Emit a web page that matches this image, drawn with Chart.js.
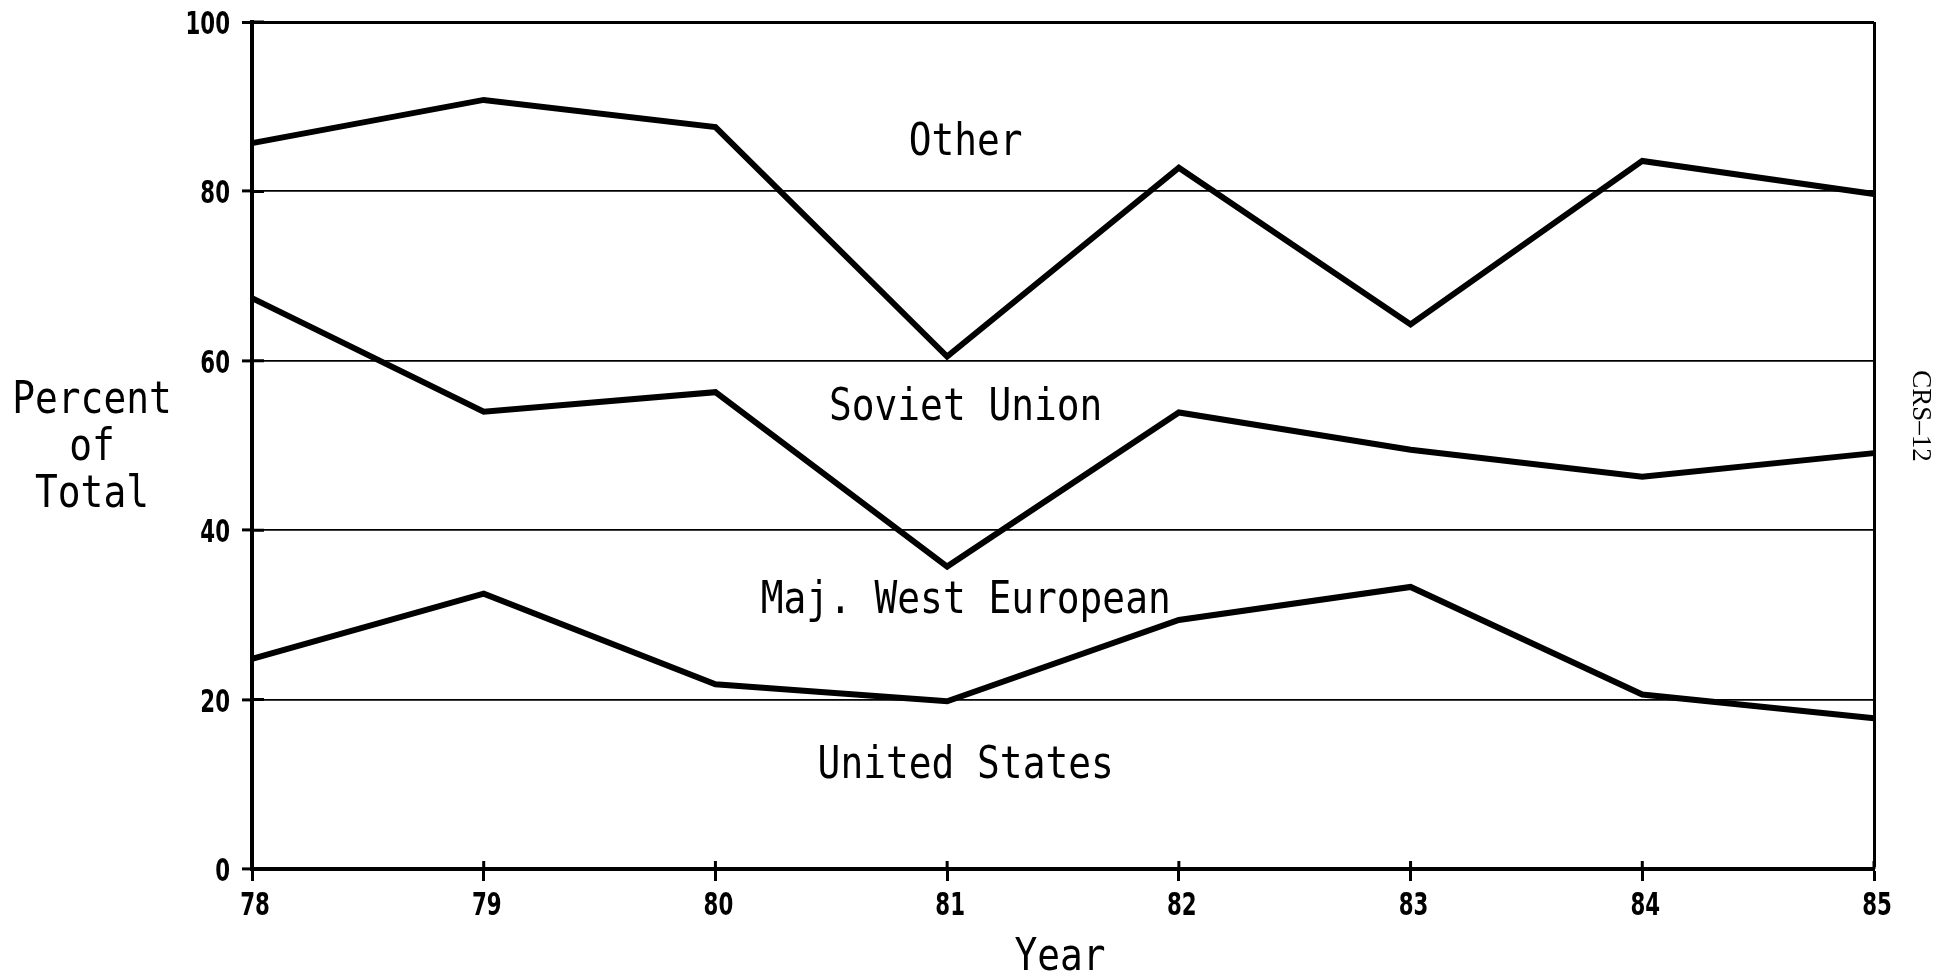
<!DOCTYPE html>
<html>
<head>
<meta charset="utf-8">
<title>Percent of Total</title>
<script src="https://cdn.jsdelivr.net/npm/chart.js@4.4.1/dist/chart.umd.min.js"></script>
<style>
    body { margin: 0; background: #fff; }
    #chart { display: block; }
</style>
</head>
<body>
<canvas id="chart" width="1948" height="977"></canvas>
<script>
// years on the x axis
const anos = ['78', '79', '80', '81', '82', '83', '84', '85'];
// upper edge of each band, percent of total (bands are stacked)
const unitedStates = [24.8, 32.5, 21.8, 19.8, 29.4, 33.3, 20.6, 17.8];
const majWestEuropean = [67.4, 54.0, 56.3, 35.7, 53.9, 49.5, 46.3, 49.1];
const sovietUnion = [85.7, 90.8, 87.6, 60.5, 82.8, 64.3, 83.6, 79.7];
const yTicks = [0, 20, 40, 60, 80, 100];
// band names, written at (year index, percent of baseline)
const bandNames = ['Other', 'Soviet Union', 'Maj. West European', 'United States'];
const bandX = [3.08, 3.08, 3.08, 3.08];
const bandY = [84.3, 53.0, 30.2, 10.7];

const tickFont = 'bold 32px "DejaVu Sans Condensed", "DejaVu Sans", sans-serif';
const monoFont = '44px "DejaVu Sans Mono", monospace';

// text squeezed sideways, like the plotter lettering
function textoEstreito(ctx, text, x, y, font, sx, align) {
    ctx.save();
    ctx.translate(x, y);
    ctx.scale(sx, 1);
    ctx.font = font;
    ctx.fillStyle = '#000';
    ctx.textAlign = align || 'center';
    ctx.textBaseline = 'alphabetic';
    ctx.fillText(text, 0, 0);
    ctx.restore();
}

const rotulos = {
    id: 'rotulos',
    afterDraw(chart) {
        const ctx = chart.ctx;
        const xs = chart.scales.x, ys = chart.scales.y;
        const area = chart.chartArea;

        // tick marks run a little way inside the frame as well
        ctx.save();
        ctx.strokeStyle = '#000';
        ctx.lineWidth = 3;
        ctx.beginPath();
        xs.ticks.forEach((t, i) => {
            const px = xs.getPixelForTick(i);
            ctx.moveTo(px, area.bottom);
            ctx.lineTo(px, area.bottom - 8);
        });
        ys.ticks.forEach(t => {
            const py = ys.getPixelForValue(t.value);
            ctx.moveTo(area.left, py);
            ctx.lineTo(area.left + 12, py);
        });
        ctx.stroke();
        ctx.restore();

        // tick labels
        ys.ticks.forEach(t => {
            textoEstreito(ctx, String(t.value), area.left - 22, ys.getPixelForValue(t.value) + 12, tickFont, 0.74, 'right');
        });
        xs.ticks.forEach((t, i) => {
            textoEstreito(ctx, anos[i], xs.getPixelForTick(i) + 3, area.bottom + 46, tickFont, 0.74, 'center');
        });

        for (let i = 0; i < bandNames.length; i++) {
            textoEstreito(ctx, bandNames[i], xs.getPixelForValue(bandX[i]), ys.getPixelForValue(bandY[i]), monoFont, 0.86);
        }

        // y title, horizontal, three lines
        const meio = (area.top + area.bottom) / 2;
        textoEstreito(ctx, 'Percent', 92, meio - 33, monoFont, 0.86);
        textoEstreito(ctx, 'of', 92, meio + 14, monoFont, 0.86);
        textoEstreito(ctx, 'Total', 92, meio + 61, monoFont, 0.86);

        // x title
        textoEstreito(ctx, 'Year', (area.left + area.right) / 2 - 3, 970, monoFont, 0.86);

        // side code
        ctx.save();
        ctx.translate(area.right + 46, 416);
        ctx.rotate(Math.PI / 2);
        ctx.font = '27px "Liberation Serif", "DejaVu Serif", serif';
        ctx.fillStyle = '#000';
        ctx.textAlign = 'center';
        ctx.textBaseline = 'middle';
        ctx.fillText('CRS\u201312', 0, 0);
        ctx.restore();
    }
};

function linha(data) {
    return {
        data: data,
        borderColor: '#000',
        borderWidth: 6,
        borderJoinStyle: 'miter',
        pointRadius: 0,
        fill: false,
        tension: 0
    };
}

let chart;
const ctx = document.getElementById('chart').getContext('2d');
chart = new Chart(ctx, {
    type: 'line',
    data: {
        labels: anos,
        datasets: [linha(unitedStates), linha(majWestEuropean), linha(sovietUnion)]
    },
    plugins: [rotulos],
    options: {
        responsive: false,
        animation: false,
        layout: { padding: { left: 0, right: 74, top: 22, bottom: 0 } },
        plugins: {
            legend: { display: false },
            tooltip: { enabled: false }
        },
        scales: {
            x: {
                offset: false,
                grid: {
                    drawOnChartArea: true,
                    color: c => c.index === anos.length - 1 ? '#000' : 'rgba(0,0,0,0)',
                    lineWidth: c => c.index === anos.length - 1 ? 3 : 1,
                    tickColor: '#000',
                    tickWidth: 3,
                    tickLength: 12
                },
                border: { display: true, color: '#000', width: 4 },
                ticks: { display: false, autoSkip: false },
                afterFit: s => { s.height = 108; }
            },
            y: {
                min: 0,
                max: 100,
                afterBuildTicks: s => { s.ticks = yTicks.map(v => ({ value: v })); },
                grid: {
                    color: '#000',
                    lineWidth: c => c.tick && c.tick.value === 100 ? 3 : 1.8,
                    tickColor: '#000',
                    tickWidth: 3,
                    tickLength: 10
                },
                border: { display: true, color: '#000', width: 4 },
                ticks: { display: false },
                afterFit: s => { s.width = 252; }
            }
        }
    }
});
</script>
</body>
</html>
